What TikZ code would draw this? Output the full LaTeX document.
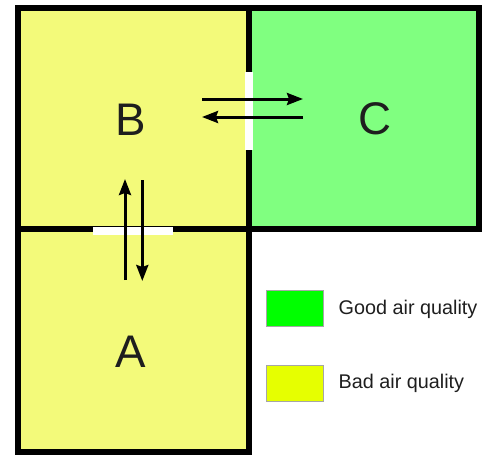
\documentclass[tikz,border=0pt]{standalone}
\usepackage{fontspec}
\setmainfont{Liberation Sans}
\usetikzlibrary{arrows.meta}
\definecolor{roomyellow}{RGB}{243,250,122}
\definecolor{roomgreen}{RGB}{128,255,128}
\definecolor{keygreen}{RGB}{0,255,0}
\definecolor{keyyellow}{RGB}{230,255,0}
\definecolor{txt}{RGB}{30,30,30}
\tikzset{
  wall/.style={line width=6pt, line join=miter, line cap=rect},
  doorgap/.style={white, line width=8pt},
  flow/.style={line width=3pt, -{Stealth[length=16pt,width=12pt,inset=2pt]}},
  roomlabel/.style={font=\fontsize{45.7}{50}\selectfont, text=txt, inner sep=0pt},
  keybox/.style={draw=gray!70, line width=0.8pt},
  keytext/.style={font=\fontsize{19.8}{22}\selectfont, text=txt, inner sep=0pt, anchor=base west}
}
\begin{document}
\begin{tikzpicture}[x=1pt,y=-1pt]
\useasboundingbox (0,0) rectangle (483,455);
% room fills
\fill[roomyellow] (17.5,7.5) rectangle (249,452);
\fill[roomgreen] (249,7.5) rectangle (479,229);
% walls
\draw[wall] (17.5,7.5) -- (479,7.5) -- (479,229) -- (249,229) -- (249,452) -- (17.5,452) -- cycle;
\draw[wall] (17.5,229) -- (249,229);
\draw[wall] (249,7.5) -- (249,229);
% doors
\draw[doorgap] (248.5,72) -- (248.5,150);
\draw[doorgap] (93,230.5) -- (173,230.5);
% room labels
\node[roomlabel] (B) at (130.5,119.7) {B};
\node[roomlabel] (C) at (375,119.2) {C};
\node[roomlabel] (A) at (130.5,351.7) {A};
% flow arrows
\coordinate (bc1) at (202,99);
\coordinate (cb1) at (303,99);
\coordinate (cb2) at (303,117);
\coordinate (bc2) at (202,117);
\coordinate (ab1) at (125,280);
\coordinate (ba1) at (125,179);
\coordinate (ba2) at (142.3,180);
\coordinate (ab2) at (142.3,281);
\draw[flow] (bc1) -- (cb1);
\draw[flow] (cb2) -- (bc2);
\draw[flow] (ab1) -- (ba1);
\draw[flow] (ba2) -- (ab2);
% legend
\draw[keybox, fill=keygreen] (266.7,290) rectangle (323.3,326.7);
\draw[keybox, fill=keyyellow] (266.7,365) rectangle (323.3,401.7);
\node[keytext] (good) at (338.5,314.5) {Good air quality};
\node[keytext] (bad) at (338.5,388) {Bad air quality};
\end{tikzpicture}
\end{document}
